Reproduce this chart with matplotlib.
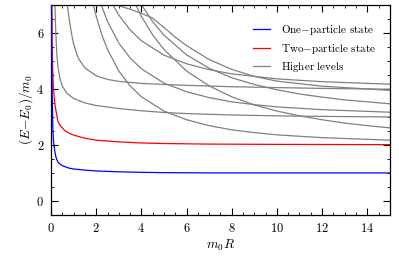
import matplotlib
matplotlib.use("Agg")
import matplotlib.pyplot as plt
from matplotlib.ticker import MultipleLocator

# Energy levels E - E0 (units of m0) against m0*R.
r_one = [0.02, 0.03, 0.05, 0.08, 0.1, 0.15, 0.2, 0.25, 0.3, 0.4, 0.5, 0.62, 0.8,
         1.0, 1.5, 2, 3, 4, 5, 7, 10, 15]
e_one = [7.0, 5.5, 3.8, 2.6, 2.2, 1.85, 1.62, 1.48, 1.4, 1.31, 1.26, 1.22, 1.17,
         1.14, 1.1, 1.07, 1.04, 1.02, 1.01, 1.0, 1.0, 1.0]

r_two = [0.03, 0.05, 0.07, 0.1, 0.15, 0.2, 0.3, 0.4, 0.6, 0.8, 1.0, 1.5, 2, 3,
         4, 5, 7, 10, 15]
e_two = [7.0, 5.5, 4.7, 4.1, 3.6, 3.3, 2.85, 2.7, 2.52, 2.42, 2.35, 2.24, 2.17,
         2.11, 2.07, 2.05, 2.03, 2.02, 2.01]

# higher levels, one pair of arrays per curve
r_h1 = [0.17, 0.2, 0.25, 0.3, 0.4, 0.5, 0.7, 1.0, 1.5, 2, 3, 4, 5, 6, 8, 10, 12, 15]
e_h1 = [7.0, 6.2, 5.3, 4.8, 4.35, 4.1, 3.85, 3.66, 3.5, 3.41, 3.3, 3.22, 3.16,
        3.12, 3.07, 3.04, 3.02, 3.0]

r_h2 = [0.72, 0.8, 0.9, 1.0, 1.2, 1.5, 2, 2.5, 3, 4, 5, 6, 8, 10, 12, 15]
e_h2 = [7.0, 6.5, 6.0, 5.6, 5.1, 4.75, 4.47, 4.34, 4.27, 4.2, 4.16, 4.13, 4.08,
        4.05, 4.02, 3.99]

r_h3 = [1.87, 2, 2.25, 2.5, 3, 3.5, 4, 5, 6, 7, 8, 9, 10, 12, 15]
e_h3 = [7.01, 6.59, 5.93, 5.41, 4.64, 4.11, 3.72, 3.21, 2.90, 2.69, 2.54, 2.44,
        2.36, 2.26, 2.17]

r_h4 = [3.75, 4, 4.5, 5, 6, 7, 8, 9, 10, 11, 12, 13, 14, 15]
e_h4 = [7.01, 6.59, 5.93, 5.41, 4.64, 4.11, 3.72, 3.43, 3.21, 3.04, 2.90, 2.78,
        2.69, 2.61]

r_h5 = [2.2, 2.5, 3, 3.5, 4, 5, 6, 7, 8, 9, 10, 12, 15]
e_h5 = [7.05, 6.41, 5.64, 5.11, 4.72, 4.21, 3.90, 3.69, 3.54, 3.44, 3.36, 3.26, 3.17]

r_h6 = [4.0, 4.5, 5, 6, 7, 8, 9, 10, 11, 12, 13, 14, 15]
e_h6 = [7.02, 6.40, 5.92, 5.22, 4.74, 4.40, 4.16, 3.97, 3.82, 3.71, 3.61, 3.54, 3.47]

r_h7 = [2.75, 3, 3.5, 4, 5, 6, 7, 8, 10, 12, 15]
e_h7 = [6.99, 6.64, 6.11, 5.72, 5.21, 4.90, 4.69, 4.54, 4.36, 4.26, 4.17]

r_h8 = [2.9, 3.5, 4.0, 4.46, 5.0, 5.5, 6.0, 7.0, 8.0, 9.0, 10, 12, 15]
e_h8 = [7.0, 6.85, 6.7, 6.55, 6.2, 5.85, 5.55, 5.05, 4.7, 4.45, 4.28, 4.1, 3.95]

higher = [(r_h1, e_h1), (r_h2, e_h2), (r_h3, e_h3), (r_h4, e_h4),
          (r_h5, e_h5), (r_h6, e_h6), (r_h7, e_h7), (r_h8, e_h8)]

plt.rcParams["font.family"] = "serif"
plt.rcParams["font.serif"] = ["cmr10", "DejaVu Serif"]
plt.rcParams["mathtext.fontset"] = "cm"
plt.rcParams["axes.formatter.use_mathtext"] = True

fig = plt.figure(figsize=(3.99, 2.64), dpi=100)
ax = fig.add_axes([0.128, 0.186, 0.849, 0.795])

for r, e in higher:
    ax.plot(r, e, color="#808080", lw=0.9, zorder=2)
ax.plot(r_two, e_two, color="#ff0000", lw=0.9, zorder=3)
ax.plot(r_one, e_one, color="#0000ff", lw=0.9, zorder=4)

# legend order: one, two, higher
h_one, = ax.plot([], [], color="#0000ff", lw=0.9)
h_two, = ax.plot([], [], color="#ff0000", lw=0.9)
h_hi, = ax.plot([], [], color="#808080", lw=0.9)
ax.legend([h_one, h_two, h_hi],
          [r"$\mathrm{One{-}particle\ state}$", r"$\mathrm{Two{-}particle\ state}$",
           r"$\mathrm{Higher\ levels}$"],
          loc="upper left", bbox_to_anchor=(0.596, 0.915), frameon=False,
          fontsize=8, handlelength=1.5, handletextpad=1.0, labelspacing=0.42,
          borderpad=0, borderaxespad=0)

ax.set_xlim(0, 15)
ax.set_ylim(-0.5, 7)
ax.xaxis.set_major_locator(MultipleLocator(2))
ax.xaxis.set_minor_locator(MultipleLocator(0.5))
ax.yaxis.set_major_locator(MultipleLocator(2))
ax.yaxis.set_minor_locator(MultipleLocator(0.5))
ax.tick_params(which="both", direction="in", top=True, right=True, labelsize=9,
               pad=5)
ax.tick_params(which="major", length=5, width=0.8)
ax.tick_params(which="minor", length=2.5, width=0.6)
for s in ax.spines.values():
    s.set_linewidth(0.9)

ax.set_xlabel(r"$m_0R$", fontsize=9.5, labelpad=2)
ax.set_ylabel(r"$(E\!-\!E_0)/m_0$", fontsize=9.5, labelpad=1)

fig.savefig("out.png", dpi=100)
